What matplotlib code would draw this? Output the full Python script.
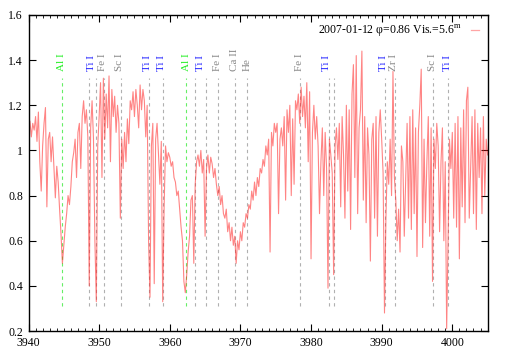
import numpy as np
import matplotlib
matplotlib.use('Agg')
import matplotlib.pyplot as plt
from matplotlib.ticker import MultipleLocator
from matplotlib.lines import Line2D

plt.rcParams['font.family'] = ['Liberation Serif', 'DejaVu Serif']
plt.rcParams['mathtext.fontset'] = 'custom'
plt.rcParams['mathtext.rm'] = 'Liberation Serif'

# spectrum, one value every 0.2 A starting at 3940
wl_start = 3940.0
wl_step = 0.2
flux = [
    1.10, 1.13, 1.06, 1.12, 1.09,   # 3940
    1.15, 1.04, 1.17, 0.95, 0.82,   # 3941
    1.02, 1.12, 1.19, 0.75, 1.05,   # 3942
    1.08, 0.95, 1.06, 0.92, 0.79,   # 3943
    0.93, 0.86, 0.74, 0.63, 0.50,   # 3944
    0.58, 0.66, 0.72, 0.80, 0.76,   # 3945
    0.84, 0.95, 0.99, 1.05, 0.88,   # 3946
    1.08, 1.12, 0.92, 1.15, 1.22,   # 3947
    1.12, 1.18, 1.06, 0.40, 1.10,   # 3948
    1.22, 1.05, 0.60, 0.33, 1.02,   # 3949
    1.15, 1.30, 0.88, 1.32, 1.05,   # 3950
    1.25, 1.10, 1.33, 0.95, 1.27,   # 3951
    1.15, 1.24, 1.08, 1.20, 1.12,   # 3952
    0.70, 1.05, 0.92, 1.08, 0.95,   # 3953
    1.14, 1.03, 1.22, 1.18, 1.26,   # 3954
    1.15, 1.27, 1.20, 1.10, 1.29,   # 3955
    1.18, 1.27, 1.22, 1.06, 1.20,   # 3956
    0.60, 0.35, 1.02, 1.12, 0.41,   # 3957
    1.05, 1.12, 0.98, 0.85, 1.04,   # 3958
    0.33, 0.75, 1.02, 0.95, 0.99,   # 3959
    0.97, 0.93, 0.95, 0.88, 0.86,   # 3960
    0.80, 0.82, 0.74, 0.66, 0.60,   # 3961
    0.42, 0.37, 0.45, 0.55, 0.62,   # 3962
    0.78, 0.80, 0.50, 0.85, 0.95,   # 3963
    0.98, 0.93, 1.00, 0.90, 0.96,   # 3964
    0.62, 0.92, 0.98, 0.90, 0.97,   # 3965
    0.94, 0.88, 0.92, 0.85, 0.80,   # 3966
    0.84, 0.76, 0.80, 0.72, 0.70,   # 3967
    0.74, 0.64, 0.68, 0.60, 0.66,   # 3968
    0.58, 0.62, 0.50, 0.60, 0.56,   # 3969
    0.64, 0.60, 0.68, 0.66, 0.72,   # 3970
    0.70, 0.76, 0.74, 0.82, 0.78,   # 3971
    0.86, 0.80, 0.88, 0.84, 0.92,   # 3972
    0.90, 0.96, 0.93, 1.02, 0.98,   # 3973
    1.05, 0.55, 1.08, 1.02, 1.12,   # 3974
    1.08, 1.12, 0.72, 1.05, 1.10,   # 3975
    1.02, 1.15, 0.78, 1.18, 1.08,   # 3976
    1.20, 0.80, 1.14, 0.85, 1.22,   # 3977
    1.18, 1.25, 1.12, 1.28, 1.15,   # 3978
    1.24, 1.10, 1.30, 0.95, 1.26,   # 3979
    0.52, 1.08, 1.20, 1.05, 1.15,   # 3980
    1.02, 0.72, 0.95, 1.10, 0.80,   # 3981
    1.08, 0.92, 0.39, 1.05, 0.98,   # 3982
    0.90, 0.45, 1.02, 1.10, 0.96,   # 3983
    1.12, 0.75, 1.15, 0.98, 0.70,   # 3984
    1.20, 0.82, 1.18, 0.65, 1.25,   # 3985
    1.38, 0.88, 1.42, 0.72, 1.10,   # 3986
    1.18, 1.44, 0.78, 1.15, 0.68,   # 3987
    1.10, 0.98, 0.51, 1.05, 1.12,   # 3988
    0.70, 1.15, 0.62, 1.08, 1.18,   # 3989
    1.05, 0.90, 0.28, 0.70, 0.95,   # 3990
    0.85, 1.05, 0.80, 1.35, 0.88,   # 3991
    0.78, 0.60, 0.74, 0.55, 1.02,   # 3992
    0.95, 0.62, 0.88, 1.12, 0.70,   # 3993
    1.15, 0.65, 1.18, 0.72, 1.10,   # 3994
    0.53, 1.08, 1.20, 1.36, 0.57,   # 3995
    1.05, 0.68, 0.95, 1.15, 0.62,   # 3996
    1.10, 0.42, 1.05, 0.92, 1.12,   # 3997
    1.02, 0.64, 0.95, 1.10, 0.60,   # 3998
    0.95, 0.21, 0.60, 1.05, 0.92,   # 3999
    1.08, 0.70, 1.12, 0.66, 1.15,   # 4000
    0.52, 1.10, 0.75, 1.18, 0.68,   # 4001
    1.22, 1.28, 0.70, 0.92, 1.15,   # 4002
    0.72, 1.18, 0.65, 1.12, 0.88,   # 4003
    1.10, 0.72, 1.15, 0.80, 1.05,   # 4004
    0.98,                           # 4005
]
wavelength = wl_start + wl_step * np.arange(len(flux))

# identified lines (dashed markers)
line_wl = [3948.6, 3949.5, 3950.7, 3953.1, 3957.1, 3959.0, 3963.6, 3965.1,
           3966.8, 3969.3, 3970.9, 3978.4, 3982.5, 3983.2, 3990.5, 3991.9,
           3997.3, 3999.4]
al_wl = [3944.8, 3962.3]

# labels above the markers
label_wl = [3944.7, 3948.9, 3950.5, 3952.9, 3956.9, 3958.8, 3962.3, 3964.3,
            3966.8, 3969.1, 3970.9, 3978.3, 3982.2, 3990.3, 3991.7, 3997.2, 3999.3]
label_txt = ['Al I', 'Ti I', 'Fe I', 'Sc I', 'Ti I', 'Ti I', 'Al I', 'Ti I',
             'Fe I', 'Ca II', 'He', 'Fe I', 'Ti I', 'Ti I', 'Zr I', 'Sc I', 'Ti I']

legend_txt = '2007-01-12 φ=0.86 Vis.=5.6$^{\\mathrm{m}}$'

colors = {'Al I': '#22ee22', 'Ti I': '#2222ff'}

fig = plt.figure(figsize=(5.09, 3.56), dpi=100)
ax = fig.add_axes([0.056, 0.070, 0.902, 0.888])

for w in line_wl:
    ax.plot([w, w], [0.31, 1.32], color='#b0b0b0', lw=0.8, ls=(0, (3, 3)))
for w in al_wl:
    ax.plot([w, w], [0.31, 1.32], color='#66ee66', lw=0.8, ls=(0, (3, 3)))

for w, t in zip(label_wl, label_txt):
    ax.text(w, 1.35, t, rotation=90, ha='center', va='bottom', fontsize=8,
            color=colors.get(t, '#888888'))

ax.plot(wavelength, flux, color='#ff2020', lw=0.8, alpha=0.55)

ax.set_xlim(3940, 4005)
ax.set_ylim(0.2, 1.6)
ax.xaxis.set_major_locator(MultipleLocator(10))
ax.xaxis.set_minor_locator(MultipleLocator(1))
ax.set_yticks([0.2, 0.4, 0.6, 0.8, 1.0, 1.2, 1.4, 1.6])
ax.set_yticklabels(['0.2', '0.4', '0.6', '0.8', '1', '1.2', '1.4', '1.6'])
ax.tick_params(which='major', direction='in', top=True, right=True, length=5,
               width=0.8, labelsize=8.5, pad=4)
ax.tick_params(which='minor', direction='in', top=True, length=2.5, width=0.6)
for s in ax.spines.values():
    s.set_linewidth(1.0)

handle = Line2D([], [], color='#ff2020', lw=0.9, alpha=0.4)
ax.legend([handle], [legend_txt], loc='upper right', frameon=False,
          markerfirst=False, handlelength=0.7, fontsize=8.5,
          borderaxespad=0.3, handletextpad=0.8)

fig.savefig('out.png', dpi=100)
